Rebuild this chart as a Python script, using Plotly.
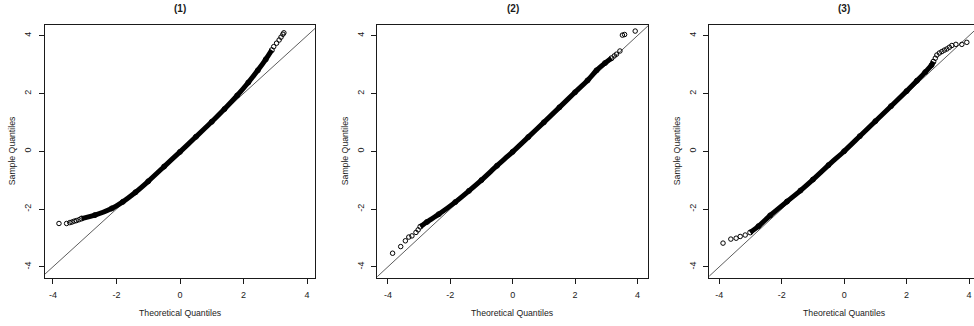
import plotly.graph_objects as go

# ---------------- data ----------------
panel_titles = ["(1)", "(2)", "(3)"]
x_title = "Theoretical Quantiles"
y_title = "Sample Quantiles"
tick_values = [-4, -2, 0, 2, 4]
tick_labels = ["-4", "-2", "0", "2", "4"]

# reference line y = intercept + slope * x
ref_intercept = 0.0
ref_slope = 1.0

# Panel (1): dense central band
p1_core_q = [-3.10, -2.68, -2.15, -1.80, -1.40, -1.00, -0.50, 0.00, 0.50, 1.00, 1.40, 1.80, 2.15, 2.45, 2.70, 2.89]
p1_core_s = [-2.33, -2.21, -1.98, -1.75, -1.42, -1.04, -0.53, -0.02, 0.50, 1.02, 1.46, 1.93, 2.38, 2.80, 3.18, 3.50]
# Panel (1): sparse tail points
p1_tail_q = [-3.81, -3.57, -3.47, -3.40, -3.33, -3.26, -3.18,
             2.95, 3.04, 3.12, 3.18, 3.24, 3.27]
p1_tail_s = [-2.50, -2.50, -2.47, -2.45, -2.42, -2.40, -2.37,
             3.62, 3.74, 3.85, 3.95, 4.05, 4.10]

# Panel (2)
p2_core_q = [-2.96, -2.75, -2.37, -1.84, -1.40, -1.00, -0.50, 0.00, 0.50, 1.00, 1.50, 2.00, 2.40, 2.69, 2.96, 3.17]
p2_core_s = [-2.61, -2.45, -2.18, -1.76, -1.37, -1.00, -0.50, -0.02, 0.49, 1.00, 1.52, 2.04, 2.45, 2.80, 3.05, 3.22]
p2_tail_q = [-3.85, -3.59, -3.44, -3.33, -3.23, -3.10, -3.03,
             3.26, 3.33, 3.44, 3.52, 3.59, 3.93]
p2_tail_s = [-3.53, -3.30, -3.10, -2.97, -2.93, -2.81, -2.72,
             3.30, 3.36, 3.47, 4.02, 4.04, 4.16]

# Panel (3)
p3_core_q = [-3.01, -2.74, -2.37, -1.83, -1.40, -1.00, -0.50, 0.00, 0.50, 1.00, 1.50, 2.00, 2.33, 2.60, 2.80, 2.86]
p3_core_s = [-2.81, -2.59, -2.22, -1.74, -1.36, -0.98, -0.48, 0.00, 0.52, 1.04, 1.56, 2.08, 2.44, 2.74, 2.98, 3.10]
p3_tail_q = [-3.88, -3.63, -3.46, -3.33, -3.17,
             2.92, 2.97, 3.05, 3.13, 3.21, 3.29, 3.37, 3.45, 3.58, 3.77, 3.93]
p3_tail_s = [-3.18, -3.04, -3.01, -2.95, -2.90,
             3.22, 3.33, 3.40, 3.45, 3.50, 3.54, 3.60, 3.66, 3.70, 3.70, 3.77]

# ---------------- layout geometry ----------------
W, H = 974, 326
panels = [
    dict(core=(p1_core_q, p1_core_s), tail=(p1_tail_q, p1_tail_s),
         dom=(45, 315), xr=(-4.25, 4.25), ytitle_x=12, right_line=True),
    dict(core=(p2_core_q, p2_core_s), tail=(p2_tail_q, p2_tail_s),
         dom=(377.3, 648.3), xr=(-4.34, 4.35), ytitle_x=345, right_line=True),
    dict(core=(p3_core_q, p3_core_s), tail=(p3_tail_q, p3_tail_s),
         dom=(709.3, 974), xr=(-4.32, 4.16), ytitle_x=677, right_line=False),
]
y_top_px, y_bot_px = 25, 277.5
y_range = (-4.37, 4.37)

FONT = "Liberation Sans, Arial, Helvetica, sans-serif"
INK = "#1a1a1a"

fig = go.Figure()
layout = dict(
    width=W, height=H,
    margin=dict(l=0, r=0, t=0, b=0),
    paper_bgcolor="white", plot_bgcolor="white",
    showlegend=False,
    font=dict(family=FONT, size=9, color=INK),
    annotations=[],
)

for i, p in enumerate(panels):
    n = "" if i == 0 else str(i + 1)
    xa, ya = "x" + n, "y" + n
    # reference line
    lx = [p["xr"][0] - 1, p["xr"][1] + 1]
    ly = [ref_intercept + ref_slope * v for v in lx]
    fig.add_trace(go.Scatter(x=lx, y=ly, mode="lines", xaxis=xa, yaxis=ya,
                             line=dict(color="#333", width=0.8), hoverinfo="skip"))
    # dense band
    fig.add_trace(go.Scatter(x=p["core"][0], y=p["core"][1], mode="lines+markers",
                             xaxis=xa, yaxis=ya,
                             line=dict(color="black", width=5, shape="spline", smoothing=0.5),
                             marker=dict(symbol="circle-open", size=5, color="black",
                                         line=dict(width=1))))
    # tail points
    fig.add_trace(go.Scatter(x=p["tail"][0], y=p["tail"][1], mode="markers",
                             xaxis=xa, yaxis=ya, cliponaxis=True,
                             marker=dict(symbol="circle-open", size=4.5, color="black",
                                         line=dict(width=1, color="black"))))

    axis_common = dict(
        showgrid=False, zeroline=False, showline=True, linecolor=INK, linewidth=1,
        ticks="outside", ticklen=5, tickwidth=1, tickcolor=INK,
        tickvals=tick_values, ticktext=tick_labels,
        tickfont=dict(family=FONT, size=9, color=INK),
    )
    layout["xaxis" + n] = dict(
        axis_common, domain=[p["dom"][0] / W, p["dom"][1] / W],
        range=list(p["xr"]), anchor=ya, mirror=True, ticklabelstandoff=4,
    )
    layout["yaxis" + n] = dict(
        axis_common, domain=[1 - y_bot_px / H, 1 - y_top_px / H],
        range=list(y_range), anchor=xa, mirror=p["right_line"],
        tickangle=-90, ticklabelstandoff=4,
    )
    # panel title
    layout["annotations"].append(dict(
        text="<b>" + panel_titles[i] + "</b>", xref=xa, x=0, yref="paper", y=1 - 8.5 / H,
        showarrow=False, xanchor="center", yanchor="middle",
        font=dict(family=FONT, size=10, color=INK)))
    # x title
    layout["annotations"].append(dict(
        text=x_title, xref=xa, x=0, yref="paper", y=1 - 313 / H,
        showarrow=False, xanchor="center", yanchor="middle",
        font=dict(family=FONT, size=8.7, color=INK)))
    # y title
    layout["annotations"].append(dict(
        text=y_title, xref="paper", x=p["ytitle_x"] / W, yref=ya, y=0,
        textangle=-90, showarrow=False, xanchor="center", yanchor="middle",
        font=dict(family=FONT, size=8.7, color=INK)))

fig.update_layout(**layout)
fig.write_html("out.html")
